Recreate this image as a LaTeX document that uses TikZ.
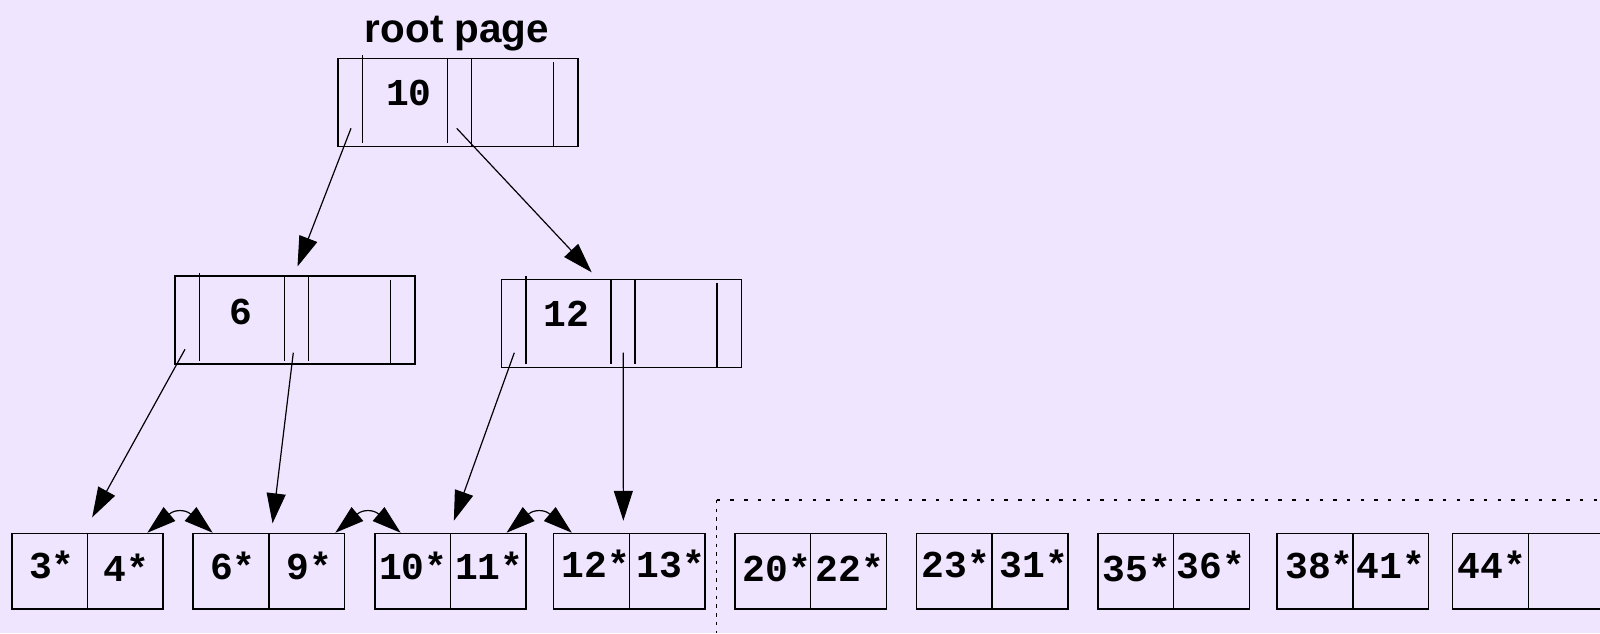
\documentclass[tikz,border=0pt]{standalone}
\usepackage{fontspec}
\setmainfont{Liberation Sans}
\newfontfamily\monof{Liberation Mono}
\usetikzlibrary{arrows.meta,calc}
\definecolor{bg}{RGB}{240,229,255}
\begin{document}
\begin{tikzpicture}[x=0.5pt,y=-0.5pt,
  ipage/.style={draw=black,line width=0.75pt,inner sep=0pt,outer sep=0pt,minimum width=120pt,minimum height=44pt},
  leafbox/.style={draw=black,line width=0.75pt,inner sep=0pt,outer sep=0pt,minimum width=75.65pt,minimum height=37.85pt},
  sepline/.style={line width=0.75pt},
  arr/.style={line width=0.6pt,-{Triangle[length=15pt,width=9.5pt]}},
  headonly/.style={line width=0.6pt,-{Triangle[length=14.5pt,width=9pt]}},
  num/.style={font=\monof\bfseries\fontsize{19}{19}\selectfont,inner sep=0pt},
  title/.style={font=\bfseries\fontsize{20.2}{20.2}\selectfont,inner sep=0pt,anchor=base},
  vdots/.style={line width=0.75pt,dash pattern=on 1.7pt off 2.65pt},
  hdots/.style={line width=0.75pt,dash pattern=on 1.7pt off 5.15pt}
]
\useasboundingbox (0,0) rectangle (1600,633);
\fill[bg] (0,0) rectangle (1600,633);

% title
\node[title] (ttl) at (457,42.7) {root page};

% index pages
\node[ipage] (root) at (458,102.3) {};
\node[ipage] (pa) at (295,320) {};
\node[ipage] (pb) at (621.7,323.3) {};
\foreach \n/\t in {root/0,pa/-3.5,pb/-3.5}{
  \draw[sepline] ($(\n.north west)+(24.3,-3)$) -- ($(\n.south west)+(24.3,-3.5)$);
  \draw[sepline] ($(\n.north west)+(109.3,0)$) -- ($(\n.south west)+(109.3,-3.5)$);
  \draw[sepline] ($(\n.north west)+(133.3,0)$) -- ($(\n.south west)+(133.3,\t)$);
  \draw[sepline] ($(\n.north west)+(215.3,3.5)$) -- ($(\n.south west)+(215.3,0)$);
}
\node[num] (k0) at (408.8,92.5) {10};
\node[num] (k1) at (241,311.7) {6};
\node[num] (k2) at (566.7,313.8) {12};

% leaf pages
\foreach \n/\x in {l1/87.5,l2/268.8,l3/450.5,l4/629.3,l5/810.7,l6/992.2,l7/1173.6,l8/1352.8,l9/1528.3}{
  \node[leafbox] (\n) at (\x,571.2) {};
  \draw[sepline] (\n.north) -- (\n.south);
}
\node[num] at (52,564.5) {3*};
\node[num] at (126.7,568) {4*};
\node[num] at (233,565.5) {6*};
\node[num] at (309.2,565.5) {9*};
\node[num] at (413.3,565.5) {10*};
\node[num] at (489.3,565.5) {11*};
\node[num] at (595.7,564) {12*};
\node[num] at (671,564) {13*};
\node[num] at (777,567.7) {20*};
\node[num] at (850,567.7) {22*};
\node[num] at (956,563.5) {23*};
\node[num] at (1034,563.5) {31*};
\node[num] at (1137,568.3) {35*};
\node[num] at (1210.7,565) {36*};
\node[num] at (1319.4,565) {38*};
\node[num] at (1391,565) {41*};
\node[num] at (1491.7,565) {44*};

% tree pointers
\draw[arr] ($(root.north west)+(13,70)$) -- ($(pa.north west)+(122.5,-9.5)$);
\draw[arr] ($(root.north west)+(118.7,70)$) -- ($(pb.north west)+(90,-7)$);
\draw[arr] ($(pa.north west)+(10,73.3)$) -- ($(l1.north west)+(80.3,-16)$);
\draw[arr] ($(pa.north west)+(118.3,76.7)$) -- ($(l2.north west)+(79.4,-10)$);
\draw[arr] ($(pb.north west)+(12.6,73.4)$) -- ($(l3.north west)+(79,-12.6)$);
\draw[arr] ($(pb.north west)+(121.6,73.4)$) -- ($(l4.north west)+(69.7,-12.6)$);

% sibling links
\foreach \a/\d in {l1/16.85,l2/23.55,l3/13.05}{
  \coordinate (cc) at ($(\a.north east)+(\d,0)$);
  \draw[sepline,line width=0.6pt] ($(cc)+(-10,-19.8)$) .. controls +(5,-4) and +(-5,-4) .. ($(cc)+(10,-19.8)$);
  \draw[headonly] ($(cc)+(-10,-19.8)$) -- ($(cc)+(-32.7,-0.6)$);
  \draw[headonly] ($(cc)+(10,-19.8)$) -- ($(cc)+(32.7,-0.6)$);
}

% dotted frame
\draw[vdots] (716.7,500) -- (716.7,633);
\draw[hdots] (716.7,500) -- (1600,500);
\end{tikzpicture}
\end{document}
